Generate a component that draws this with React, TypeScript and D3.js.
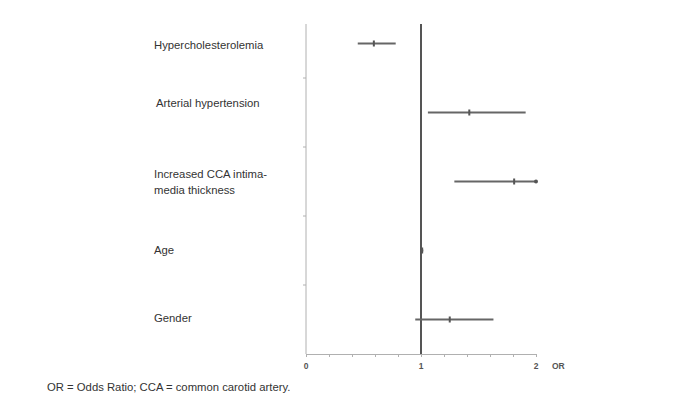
import React from "react";
import * as d3 from "d3";

const factors = [
  "Hypercholesterolemia",
  "Arterial hypertension",
  "Increased CCA intima-media thickness",
  "Age",
  "Gender",
];
const labelLines = [
  ["Hypercholesterolemia"],
  ["Arterial hypertension"],
  ["Increased CCA intima-", "media thickness"],
  ["Age"],
  ["Gender"],
];
const oddsRatio = [0.59, 1.42, 1.81, 1.01, 1.25];
const ciLow = [0.45, 1.06, 1.29, 1.0, 0.95];
const ciHigh = [0.78, 1.91, 2.0, 1.02, 1.63];
const xTickLabels = [0, 1, 2];
const footnote = "OR = Odds Ratio; CCA = common carotid artery.";

const W = 693;
const H = 405;

const App = () => {
  const svgRef = React.useRef<SVGSVGElement | null>(null);

  React.useEffect(() => {
    const svg = d3.select(svgRef.current);
    svg.selectAll("*").remove();

    const font = "'Liberation Sans', Arial, sans-serif";
    const x = d3.scaleLinear().domain([0, 2]).range([306, 536]);
    const y = d3.scaleBand<string>().domain(factors).range([9, 354]);
    const yc = (f: string) => (y(f) as number) + y.bandwidth() / 2;

    // y axis line + ticks between rows
    svg
      .append("line")
      .attr("x1", x(0))
      .attr("x2", x(0))
      .attr("y1", 24)
      .attr("y2", 354)
      .attr("stroke", "#b0b0b0")
      .attr("stroke-width", 1);
    factors.slice(1).forEach((f) => {
      svg
        .append("line")
        .attr("x1", x(0) - 3)
        .attr("x2", x(0))
        .attr("y1", y(f) as number)
        .attr("y2", y(f) as number)
        .attr("stroke", "#b0b0b0");
    });

    // x axis
    const xAxis = d3
      .axisBottom(x)
      .tickValues(d3.range(0, 2.0001, 0.2))
      .tickSize(3)
      .tickFormat(() => "");
    const xg = svg.append("g").attr("transform", "translate(0,354)").call(xAxis);
    xg.select(".domain").attr("stroke", "#b0b0b0");
    xg.selectAll("line").attr("stroke", "#b0b0b0");

    xTickLabels.forEach((v) => {
      svg
        .append("text")
        .attr("x", x(v))
        .attr("y", 369)
        .attr("text-anchor", "middle")
        .attr("font-family", font)
        .attr("font-size", 8.5)
        .attr("font-weight", "bold")
        .attr("fill", "#555")
        .text(v);
    });
    svg
      .append("text")
      .attr("x", x(2) + 16)
      .attr("y", 369)
      .attr("font-family", font)
      .attr("font-size", 8.5)
      .attr("font-weight", "bold")
      .attr("fill", "#555")
      .text("OR");

    // reference line at OR = 1
    svg
      .append("line")
      .attr("x1", x(1))
      .attr("x2", x(1))
      .attr("y1", 24)
      .attr("y2", 354)
      .attr("stroke", "#555")
      .attr("stroke-width", 2);

    // confidence intervals
    factors.forEach((f, i) => {
      const cy = yc(f);
      svg
        .append("line")
        .attr("x1", x(ciLow[i]))
        .attr("x2", x(ciHigh[i]))
        .attr("y1", cy)
        .attr("y2", cy)
        .attr("stroke", "#666")
        .attr("stroke-width", 2);
      svg
        .append("rect")
        .attr("x", x(oddsRatio[i]) - 1)
        .attr("y", cy - 3)
        .attr("width", 2)
        .attr("height", 6)
        .attr("fill", "#555");
    });
    // end dot on CCA interval
    svg
      .append("circle")
      .attr("cx", x(ciHigh[2]))
      .attr("cy", yc(factors[2]))
      .attr("r", 2)
      .attr("fill", "#555");

    // labels
    const labelDy = [1, -10, -8, -1, -2];
    const labelDx = [0, 2, 0, 0, 0];
    labelLines.forEach((lines, i) => {
      const t = svg
        .append("text")
        .attr("y", yc(factors[i]) + labelDy[i] + 4)
        .attr("font-family", font)
        .attr("font-size", 11.3)
        .attr("fill", "#333");
      lines.forEach((ln, j) => {
        t.append("tspan")
          .attr("x", 154 + labelDx[i])
          .attr("dy", j === 0 ? 0 : 16)
          .text(ln);
      });
    });

    svg
      .append("text")
      .attr("x", 47)
      .attr("y", 391)
      .attr("font-family", font)
      .attr("font-size", 11.3)
      .attr("fill", "#333")
      .text(footnote);
  }, []);

  return (
    <svg
      ref={svgRef}
      width={W}
      height={H}
      style={{ position: "absolute", left: 0, top: 0, background: "#fff" }}
    />
  );
};

export default App;
